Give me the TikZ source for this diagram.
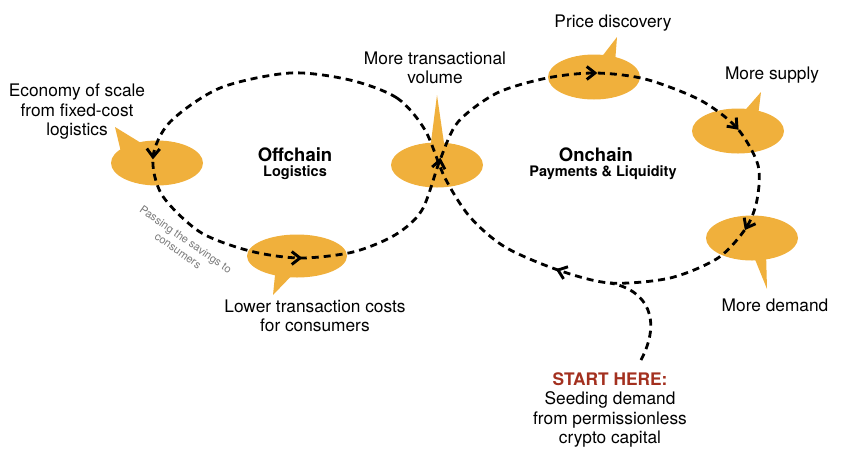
\documentclass[tikz,border=0pt]{standalone}
\usepackage{fontspec}
\setmainfont{TeX Gyre Heros}
\usetikzlibrary{shapes.geometric,calc}
\definecolor{bub}{HTML}{F0B03C}
\definecolor{startred}{HTML}{A3301F}
\definecolor{passgray}{HTML}{7A7A7A}
\newcommand\chevtip[3]{\draw[chev] ($(#1,#2)+(#3+142:10.5)$) -- (#1,#2) -- ($(#1,#2)+(#3-142:10.5)$);}
\begin{document}
\begin{tikzpicture}[x=1pt,y=-1pt,
  bubble/.style={ellipse, fill=bub, draw=none, minimum width=92pt, minimum height=45pt, inner sep=0pt},
  tail/.style={fill=bub},
  flow/.style={line width=2.8pt, dash pattern=on 7pt off 5pt, black},
  chev/.style={line width=2.9pt, solid, line join=miter, black},
  lbl/.style={font=\fontsize{17.3}{19.5}\selectfont, align=center, inner sep=0pt},
  ttl/.style={font=\bfseries\fontsize{18.5}{20}\selectfont, inner sep=0pt},
  sub/.style={font=\bfseries\fontsize{14.5}{16}\selectfont, inner sep=0pt},
  pass/.style={font=\fontsize{11}{13.5}\selectfont, text=passgray, align=center, inner sep=0pt}]
\useasboundingbox (0,0) rectangle (844,459);

% bubbles
\node[bubble] (bLeft) at (157,163) {};
\fill[tail] (115,127) -- (121,152) -- (146,146) -- cycle;
\node[bubble, minimum width=100pt, minimum height=43pt] (bBottom) at (297,256) {};
\fill[tail] (273,295) -- (276,265) -- (299,268) -- cycle;
\node[bubble] (bCross) at (437,165) {};
\fill[tail] (437,95) -- (430,150) -- (445,150) -- cycle;
\node[bubble] (bPrice) at (594,77) {};
\fill[tail] (617,37) -- (597,63) -- (615,63) -- cycle;
\node[bubble] (bSupply) at (738,131) {};
\fill[tail] (761,92) -- (740,116) -- (758,116) -- cycle;
\node[bubble] (bDemand) at (752,238) {};
\fill[tail] (767,289) -- (752,252) -- (766,252) -- cycle;

% flow loop (figure eight)
\draw[flow] plot[smooth cycle] coordinates {
  (425,130) (397,98) (350,80) (290,73) (220,88) (170,122) (153,157)
  (162,195) (200,232) (250,251) (300,258) (353,252) (395,235) (422,210)
  (440,160) (458,122) (497,93) (547,78) (595,73) (645,79) (700,100)
  (737,128) (758,165) (757,200) (746,228) (718,258) (670,278) (610,283)
  (558,270) (505,247) (470,217) (445,178)};

% start line
\coordinate (st) at (641,360);
\coordinate (merge) at (610,283);
\draw[flow] (st) .. controls (662,320) and (648,290) .. (merge);

% arrow heads
\chevtip{595}{73}{0}
\chevtip{737}{128}{48}
\chevtip{746}{228}{118}
\chevtip{558}{270}{200}
\chevtip{440}{160}{-80}
\chevtip{153}{157}{92}
\chevtip{300}{258}{0}

% labels
\node[lbl] (tEconomy) at (77,112) {Economy of scale\\from fixed-cost\\logistics};
\node[lbl] (tVolume) at (435,68) {More transactional\\volume};
\node[lbl] (tPrice) at (613,23) {Price discovery};
\node[lbl] (tSupply) at (772,75) {More supply};
\node[lbl] (tDemand) at (775,305) {More demand};
\node[lbl] (tLower) at (315,316) {Lower transaction costs\\for consumers};
\node[ttl] (tOff) at (295,155) {Offchain};
\node[sub] (tLog) at (295,173) {Logistics};
\node[ttl] (tOn) at (596,155) {Onchain};
\node[sub] (tPay) at (603,173) {Payments \& Liquidity};
\node[lbl] (tStart) at (610,410) {\textcolor{startred}{\bfseries START HERE:}\\Seeding demand\\from permissionless\\crypto capital};
\node[pass, rotate=-35] (tPass) at (182,245) {Passing the savings to\\consumers};
\end{tikzpicture}
\end{document}
